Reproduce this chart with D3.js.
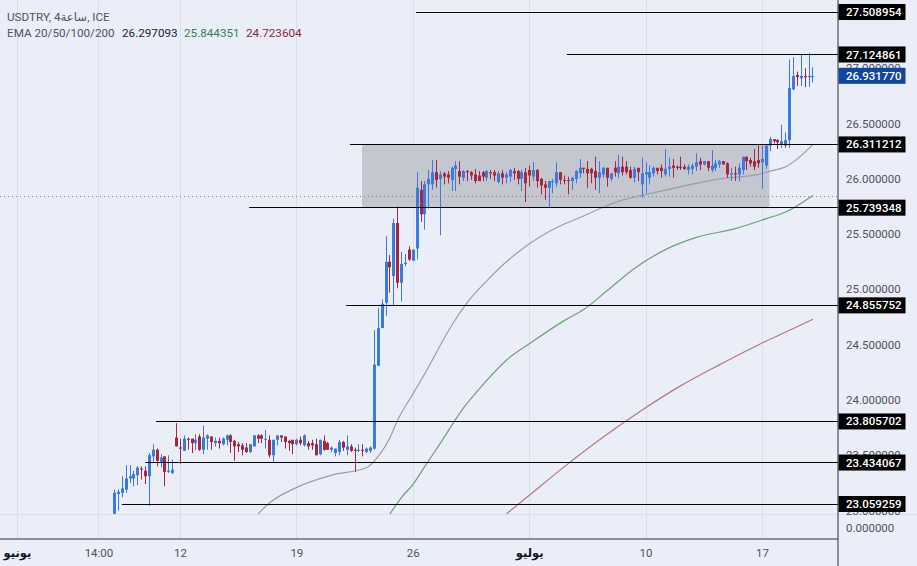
<!DOCTYPE html>
<html>
<head>
<meta charset="utf-8">
<script src="https://cdn.jsdelivr.net/npm/d3@7"></script>
<style>
    html, body { margin: 0; padding: 0; background: #e9eef9; overflow: hidden; }
    text { font-family: Roboto, "DejaVu Sans", sans-serif; }
</style>
</head>
<body>
<div id="container"></div>
<script>
const opens = [
    22.97,23.15,23.16,23.19,23.29,23.29,23.32,23.38,23.36,23.31,
    23.49,23.55,23.44,23.49,23.35,23.34,23.66,23.57,23.54,23.65,
    23.65,23.61,23.67,23.55,23.65,23.67,23.61,23.63,23.60,23.64,
    23.68,23.63,23.60,23.59,23.57,23.53,23.58,23.68,23.68,23.64,
    23.64,23.50,23.64,23.68,23.67,23.63,23.64,23.60,23.64,23.59,
    23.61,23.61,23.60,23.51,23.63,23.61,23.55,23.52,23.53,23.62,
    23.55,23.58,23.55,23.54,23.55,23.53,23.54,23.56,24.31,24.65,
    24.88,25.25,25.12,25.60,25.06,25.23,25.36,25.26,25.37,25.90,
    25.68,25.95,25.95,26.06,26.00,26.05,26.04,25.99,26.09,26.07,
    26.01,26.07,26.06,26.04,26.03,26.06,26.01,26.06,26.06,25.97,
    26.05,26.01,26.02,26.07,26.07,26.00,26.06,26.08,26.02,26.08,
    26.00,25.95,25.92,25.97,25.96,26.06,25.99,25.99,25.98,26.00,
    26.05,26.10,26.09,26.09,26.07,26.01,26.04,26.10,26.00,26.10,
    26.05,26.11,26.11,26.08,26.01,26.10,25.95,26.04,26.01,26.05,
    26.10,26.10,26.04,26.09,26.12,26.11,26.11,26.11,26.08,26.09,
    26.11,26.16,26.13,26.16,26.08,26.10,26.13,26.16,26.14,26.04,
    26.05,26.04,26.08,26.20,26.17,26.16,26.17,26.15,26.12,26.30,
    26.36,26.35,26.31,26.30,26.35,26.81,26.94,26.91,26.93,26.92,26.92
]
const highs = [
    23.19,23.19,23.31,23.41,23.41,23.36,23.40,23.40,23.40,23.52,
    23.60,23.56,23.51,23.49,23.50,23.46,23.79,23.65,23.68,23.66,
    23.65,23.69,23.69,23.77,23.69,23.67,23.66,23.66,23.66,23.69,
    23.69,23.64,23.62,23.61,23.61,23.60,23.68,23.69,23.69,23.73,
    23.68,23.64,23.68,23.68,23.67,23.64,23.64,23.65,23.67,23.69,
    23.63,23.64,23.65,23.64,23.68,23.62,23.58,23.56,23.64,23.63,
    23.68,23.60,23.57,23.60,23.60,23.57,23.58,24.63,24.83,24.91,
    25.48,25.31,25.64,25.75,25.34,25.32,25.39,25.36,26.06,25.98,
    25.98,26.08,26.17,26.17,26.07,26.06,26.07,26.11,26.16,26.16,
    26.08,26.08,26.07,26.09,26.07,26.07,26.08,26.08,26.08,26.07,
    26.08,26.06,26.09,26.10,26.08,26.08,26.10,26.12,26.15,26.09,
    26.01,25.98,25.98,26.00,26.15,26.06,26.03,26.02,26.02,26.08,
    26.18,26.10,26.16,26.10,26.20,26.16,26.11,26.10,26.05,26.16,
    26.22,26.20,26.16,26.11,26.11,26.10,26.19,26.15,26.12,26.11,
    26.10,26.13,26.27,26.19,26.18,26.12,26.20,26.13,26.13,26.14,
    26.23,26.19,26.16,26.16,26.26,26.17,26.17,26.16,26.15,26.10,
    26.11,26.14,26.20,26.20,26.19,26.27,26.31,26.31,26.31,26.38,
    26.36,26.36,26.49,26.42,27.08,27.10,26.97,27.12,27.00,27.14,27.01
]
const lows = [
    22.97,23.00,23.12,23.16,23.25,23.22,23.23,23.28,23.24,23.04,
    23.44,23.40,23.39,23.22,23.34,23.33,23.58,23.42,23.54,23.55,
    23.52,23.55,23.54,23.51,23.55,23.55,23.58,23.56,23.59,23.59,
    23.52,23.45,23.53,23.50,23.52,23.52,23.58,23.61,23.61,23.56,
    23.48,23.44,23.59,23.62,23.56,23.54,23.51,23.59,23.59,23.58,
    23.55,23.55,23.50,23.50,23.54,23.55,23.53,23.49,23.50,23.54,
    23.50,23.53,23.35,23.53,23.49,23.52,23.52,23.55,24.31,24.65,
    24.76,24.97,24.85,25.01,24.89,25.21,25.26,25.26,25.27,25.61,
    25.54,25.73,25.90,25.92,25.49,25.95,25.96,25.89,25.89,25.95,
    25.98,25.98,25.99,25.96,25.98,25.98,25.98,26.00,25.98,25.96,
    25.95,25.96,25.97,25.99,25.95,25.89,25.79,25.93,25.98,25.92,
    25.86,25.81,25.74,25.87,25.93,25.95,25.95,25.86,25.90,25.96,
    26.01,26.05,25.92,25.96,25.90,25.87,26.01,25.93,25.98,26.02,
    26.01,26.03,26.04,26.00,25.97,25.98,25.83,25.87,25.95,26.02,
    26.04,26.01,26.02,26.02,26.01,26.08,26.08,26.08,26.04,26.04,
    26.07,26.08,26.12,26.07,26.06,26.07,26.10,26.13,26.01,25.98,
    25.98,25.98,26.04,26.08,26.11,26.08,26.10,25.91,26.09,26.25,
    26.32,26.27,26.28,26.28,26.28,26.80,26.84,26.84,26.83,26.83,26.87
]
const closes = [
    23.16,23.17,23.20,23.29,23.31,23.33,23.39,23.37,23.31,23.50,
    23.55,23.45,23.48,23.35,23.36,23.37,23.58,23.56,23.65,23.64,
    23.61,23.64,23.55,23.66,23.68,23.62,23.63,23.61,23.65,23.68,
    23.62,23.58,23.58,23.55,23.53,23.60,23.68,23.65,23.65,23.65,
    23.50,23.64,23.68,23.66,23.62,23.61,23.60,23.64,23.61,23.68,
    23.58,23.59,23.50,23.64,23.55,23.55,23.57,23.56,23.62,23.57,
    23.58,23.54,23.54,23.55,23.54,23.56,23.57,24.32,24.65,24.87,
    25.25,25.20,25.60,25.06,25.23,25.24,25.27,25.36,25.92,25.68,
    25.95,26.00,26.06,25.99,26.04,26.02,26.01,26.10,26.12,26.02,
    26.07,26.06,26.03,25.98,25.98,26.02,26.07,26.05,26.03,26.05,
    26.01,26.04,26.08,26.05,26.00,26.06,25.96,26.03,26.08,25.98,
    25.94,25.92,25.98,25.98,26.06,25.99,25.98,25.98,26.01,26.07,
    26.10,26.09,26.05,26.05,26.01,26.06,26.10,26.01,26.05,26.06,
    26.11,26.06,26.06,26.01,26.09,26.06,26.05,26.06,26.06,26.10,
    26.07,26.07,26.09,26.11,26.10,26.10,26.10,26.09,26.11,26.12,
    26.15,26.13,26.16,26.10,26.12,26.14,26.16,26.13,26.04,26.05,
    26.04,26.10,26.20,26.16,26.14,26.11,26.14,26.18,26.30,26.36,
    26.34,26.33,26.34,26.35,26.82,26.93,26.92,26.93,26.92,26.93,26.93
]

// moving averages: bar number, value
const ema20 = [[37,22.97],[40,23.07],[47,23.21],[56,23.32],[65,23.39],[67,23.45],[71,23.66],[73,23.82],[77,24.06],[80,24.24],[87,24.68],[91,24.885],[96,25.08],[101,25.25],[105,25.364],[114,25.56],[120,25.65],[125,25.73],[131,25.81],[136,25.85],[146,25.93],[156,26.00],[166,26.04],[169,26.07],[173,26.11],[180,26.31]]
const ema50 = [[71,22.97],[74,23.12],[77,23.24],[80,23.40],[84,23.61],[90,23.93],[95,24.14],[101,24.36],[107,24.51],[116,24.72],[121,24.82],[127,24.99],[134,25.19],[142,25.36],[150,25.47],[160,25.55],[168,25.64],[173,25.70],[180,25.85]]
const ema100 = [[101,22.97],[107,23.14],[115,23.37],[125,23.64],[136,23.91],[146,24.13],[156,24.32],[166,24.50],[174,24.63],[180,24.73]]

// drawn levels: price, bar where the line starts
const levelPrices = [27.508954, 27.124861, 26.311212, 25.739348, 24.855752, 23.805702, 23.434067, 23.059259]
const levelStarts = [77.7, 116.6, 60.7, 34.7, 59.7, 10.7, 7.9, 1.9]

const priceTicks = [27, 26.5, 26, 25.5, 25, 24.5, 24, 23.5, 23]
const lastPrice = 26.93177
const ema50Last = 25.844351
const zoneBars = [63.8, 168.8]
const zonePrices = [26.311212, 25.739348]

const timeTickBars = [-25, -4, 17, 47, 77, 107, 137, 167]
const timeTickLabels = ["يونيو", "14:00", "12", "19", "26", "يوليو", "10", "17"]
const timeTickBold = [true, false, false, false, false, true, false, false]

const width = 917, height = 566
const plot = { right: 838, bottom: 539, paneBottom: 515 }
const colors = {
    bg: "#e9eef9", grid: "#d9dee9", axis: "#2d3140", text: "#50535e",
    up: "#3d7ae0", down: "#a5283e", zone: "#c4c7cf",
    ema20: "#9b9ea6", ema50: "#6f9f78", ema100: "#b9767c"
}

const x = d3.scaleLinear().domain([0, 180]).range([114.5, 812.9])
const y = d3.scaleLinear().domain([23.059259, 27.508954]).range([504, 12])
const snap = v => Math.floor(v) + 0.5

const svg = d3.select("#container").append("svg")
    .attr("width", width)
    .attr("height", height)
    .style("display", "block")

svg.append("rect").attr("width", width).attr("height", height).attr("fill", colors.bg)

svg.append("defs").append("clipPath").attr("id", "pane")
    .append("rect").attr("width", plot.right).attr("height", plot.paneBottom)

// grid
svg.append("g").selectAll("line")
    .data(timeTickBars).enter().append("line")
    .attr("x1", d => snap(x(d))).attr("x2", d => snap(x(d)))
    .attr("y1", 0).attr("y2", plot.bottom)
    .attr("stroke", colors.grid)
svg.append("line")
    .attr("x1", 0).attr("x2", width)
    .attr("y1", plot.paneBottom - 0.5).attr("y2", plot.paneBottom - 0.5)
    .attr("stroke", colors.grid)

const pane = svg.append("g").attr("clip-path", "url(#pane)")

pane.append("rect")
    .attr("x", x(zoneBars[0]))
    .attr("y", y(zonePrices[0]))
    .attr("width", x(zoneBars[1]) - x(zoneBars[0]))
    .attr("height", y(zonePrices[1]) - y(zonePrices[0]))
    .attr("fill", colors.zone)

pane.append("line")
    .attr("x1", 0).attr("x2", plot.right)
    .attr("y1", snap(y(ema50Last))).attr("y2", snap(y(ema50Last)))
    .attr("stroke", "#7f838c")
    .attr("stroke-dasharray", "1,3")

// moving averages
const line = d3.line().x(d => x(d[0])).y(d => y(d[1])).curve(d3.curveMonotoneX)
const averages = [[ema20, colors.ema20], [ema50, colors.ema50], [ema100, colors.ema100]]
pane.selectAll(".ema")
    .data(averages).enter().append("path")
    .attr("class", "ema")
    .attr("d", d => line(d[0]))
    .attr("fill", "none")
    .attr("stroke", d => d[1])
    .attr("stroke-width", 1.2)

// candles
const candleColor = i => closes[i] >= opens[i] ? colors.up : colors.down
const candles = pane.selectAll(".candle")
    .data(d3.range(opens.length)).enter().append("g")
    .attr("class", "candle")
candles.append("line")
    .attr("x1", i => snap(x(i))).attr("x2", i => snap(x(i)))
    .attr("y1", i => y(highs[i])).attr("y2", i => y(lows[i]))
    .attr("stroke", candleColor)
    .attr("stroke-width", 1)
candles.append("rect")
    .attr("x", i => snap(x(i)) - 1.5)
    .attr("width", 3)
    .attr("y", i => y(Math.max(opens[i], closes[i])))
    .attr("height", i => Math.max(1, Math.abs(y(opens[i]) - y(closes[i]))))
    .attr("fill", candleColor)

// levels
svg.append("g").selectAll("line")
    .data(levelPrices).enter().append("line")
    .attr("x1", (d, i) => x(levelStarts[i]))
    .attr("x2", plot.right)
    .attr("y1", d => snap(y(d))).attr("y2", d => snap(y(d)))
    .attr("stroke", "#000")
    .attr("stroke-width", 1.2)

// axes
svg.append("line")
    .attr("x1", plot.right).attr("x2", plot.right)
    .attr("y1", 0).attr("y2", height)
    .attr("stroke", colors.axis)
svg.append("line")
    .attr("x1", 0).attr("x2", plot.right)
    .attr("y1", plot.bottom).attr("y2", plot.bottom)
    .attr("stroke", colors.axis)

svg.append("g").selectAll("text")
    .data(priceTicks).enter().append("text")
    .attr("x", 846)
    .attr("y", d => y(d))
    .attr("dy", "0.35em")
    .attr("font-size", 11.5)
    .attr("fill", colors.text)
    .text(d => d.toFixed(6))
svg.append("text")
    .attr("x", 846).attr("y", 528).attr("dy", "0.35em")
    .attr("font-size", 11.5)
    .attr("fill", colors.text)
    .text("0.000000")

svg.append("g").selectAll("text")
    .data(timeTickBars).enter().append("text")
    .attr("x", d => x(d))
    .attr("y", 553)
    .attr("dy", "0.35em")
    .attr("text-anchor", "middle")
    .attr("font-size", 11.5)
    .attr("font-weight", (d, i) => timeTickBold[i] ? "bold" : "normal")
    .attr("fill", (d, i) => timeTickBold[i] ? "#131722" : colors.text)
    .text((d, i) => timeTickLabels[i])

// price labels
function priceLabel(price, fill) {
    const g = svg.append("g").attr("transform", `translate(838.5,${y(price)})`)
    g.append("rect")
        .attr("y", -8).attr("width", 67).attr("height", 16)
        .attr("fill", fill)
    g.append("text")
        .attr("x", 7.5).attr("dy", "0.35em")
        .attr("font-size", 11.5)
        .attr("font-weight", 500)
        .attr("fill", "#fff")
        .text(price.toFixed(6))
}
levelPrices.forEach(p => priceLabel(p, "#000"))
priceLabel(lastPrice, "#13459e")

// legend
svg.append("text")
    .attr("x", 7).attr("y", 21)
    .attr("font-size", 11.7)
    .attr("fill", colors.text)
    .text("USDTRY, 4ساعة, ICE")

const legendRow = svg.append("g").attr("font-size", 11.7)
legendRow.append("text").attr("x", 7).attr("y", 37).attr("fill", colors.text).text("EMA 20/50/100/200")
legendRow.append("text").attr("x", 122).attr("y", 37).attr("fill", "#222631").text("26.297093")
legendRow.append("text").attr("x", 184).attr("y", 37).attr("fill", "#3f7d4e").text("25.844351")
legendRow.append("text").attr("x", 246).attr("y", 37).attr("fill", "#8a2a3f").text("24.723604")
</script>
</body>
</html>
